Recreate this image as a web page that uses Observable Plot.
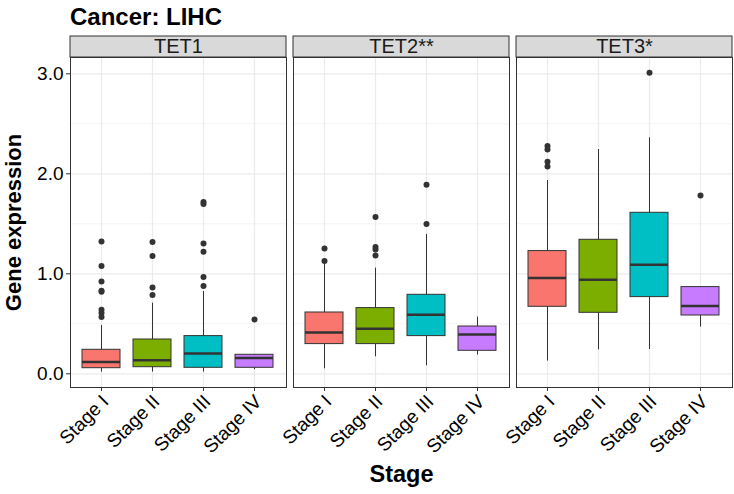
<!DOCTYPE html>
<html><head><meta charset="utf-8">
<script src="https://cdn.jsdelivr.net/npm/d3@7"></script>
<script src="https://cdn.jsdelivr.net/npm/@observablehq/plot@0.6"></script>
<style>
body{margin:0;background:#fff;font-family:"Liberation Sans",Arial,sans-serif;}
#wrap{position:relative;width:734px;height:494px;}
#title{position:absolute;left:70px;top:5px;font-weight:bold;font-size:24px;line-height:1;color:#000;}
</style></head><body>
<div id="wrap"><div id="chart"></div><div id="title">Cancer: LIHC</div></div>
<script>
const genes = ["TET1", "TET2**", "TET3*"];
const stages = ["Stage I", "Stage II", "Stage III", "Stage IV"];
const stageColors = ["#F8766D", "#7CAE00", "#00BFC4", "#C77CFF"];
const yTicks = [0, 1, 2, 3];
const yMinor = [0.5, 1.5, 2.5];

// box statistics per gene (rows) and stage (columns)
const whiskerLow = [
  [0.017, 0.017, 0.017, 0.040],
  [0.050, 0.170, 0.080, 0.187],
  [0.127, 0.240, 0.243, 0.467]
];
const q1 = [
  [0.056, 0.066, 0.060, 0.060],
  [0.297, 0.297, 0.377, 0.230],
  [0.670, 0.610, 0.767, 0.583]
];
const median = [
  [0.117, 0.136, 0.203, 0.157],
  [0.413, 0.450, 0.590, 0.393],
  [0.957, 0.940, 1.090, 0.677]
];
const q3 = [
  [0.240, 0.343, 0.377, 0.190],
  [0.613, 0.657, 0.790, 0.473],
  [1.227, 1.340, 1.610, 0.867]
];
const whiskerHigh = [
  [0.483, 0.706, 0.823, 0.190],
  [1.100, 1.057, 1.393, 0.567],
  [1.933, 2.243, 2.360, 0.867]
];
const outliers = [
  [[1.323, 1.077, 0.923, 0.830, 0.820, 0.640, 0.607, 0.567],
   [1.317, 1.177, 0.863, 0.787],
   [1.717, 1.697, 1.303, 1.220, 0.967, 0.877],
   [0.543]],
  [[1.253, 1.127],
   [1.567, 1.267, 1.243, 1.183],
   [1.890, 1.497],
   []],
  [[2.277, 2.243, 2.120, 2.073],
   [],
   [3.010],
   [1.783]]
];

const boxes = [];
const points = [];
genes.forEach((g, gi) => stages.forEach((s, si) => {
  boxes.push({gene: g, stage: s, lo: whiskerLow[gi][si], q1: q1[gi][si], med: median[gi][si], q3: q3[gi][si], hi: whiskerHigh[gi][si]});
  outliers[gi][si].forEach(v => points.push({gene: g, stage: s, value: v}));
}));

const yTop = 3.163, yBottom = -0.137, stripTop = 3.373;

const chart = Plot.plot({
  width: 734, height: 494,
  marginLeft: 70, marginRight: 1, marginTop: 57, marginBottom: 107,
  style: {fontFamily: "'Liberation Sans', Arial, sans-serif", fontSize: "19px", color: "#000", background: "white"},
  fx: {domain: genes, paddingInner: 7 / 223.7, paddingOuter: 0, axis: null, label: null},
  x: {domain: stages, paddingInner: 0.25, paddingOuter: 0.225, label: null},
  y: {domain: [yBottom, yTop], label: null},
  color: {domain: stages, range: stageColors},
  marks: [
    Plot.gridY(yMinor, {stroke: "#ebebeb", strokeOpacity: 1, strokeWidth: 0.6}),
    Plot.gridY(yTicks, {stroke: "#ebebeb", strokeOpacity: 1, strokeWidth: 1.2}),
    Plot.gridX(stages, {stroke: "#ebebeb", strokeOpacity: 1, strokeWidth: 1.2}),
    Plot.axisY(yTicks, {tickFormat: d3.format(".1f"), tickSize: 4, tickPadding: 3, stroke: "#333", fontSize: 19, fill: "#000", label: null}),
    Plot.axisX(stages, {tickSize: 4, tickFormat: () => "", stroke: "#333", label: null}),
    Plot.axisX(stages, {tickRotate: -45, tickSize: 0, tickPadding: 6, fontSize: 19, fill: "#000", label: null, dx: 4, dy: 5}),
    Plot.ruleX(boxes, {fx: "gene", x: "stage", y1: "lo", y2: "hi", stroke: "#333", strokeWidth: 1}),
    Plot.barY(boxes, {fx: "gene", x: "stage", y1: "q1", y2: "q3", fill: "stage", stroke: "#333", strokeWidth: 1}),
    Plot.tickY(boxes, {fx: "gene", x: "stage", y: "med", stroke: "#333", strokeWidth: 2.5}),
    Plot.dot(points, {fx: "gene", x: "stage", y: "value", r: 3, fill: "#333", stroke: "none"}),
    Plot.frame({stroke: "#333", strokeWidth: 1}),
    Plot.rect(genes, {fx: d => d, y1: yTop, y2: stripTop, fill: "#d9d9d9", stroke: "#333", strokeWidth: 1}),
    Plot.text(genes, {fx: d => d, text: d => d, y: (yTop + stripTop) / 2, fontSize: 20, fill: "#1a1a1a"}),
    Plot.text(["Gene expression"], {fx: () => genes[0], text: d => d, frameAnchor: "left", textAnchor: "middle", rotate: -90, dx: -57, fontSize: 22, fontWeight: "bold", fill: "#000"}),
    Plot.text(["Stage"], {fx: () => genes[1], text: d => d, frameAnchor: "bottom", textAnchor: "middle", dy: 94, fontSize: 23.5, fontWeight: "bold", fill: "#000"})
  ]
});
document.getElementById("chart").appendChild(chart);
</script>
</body></html>
